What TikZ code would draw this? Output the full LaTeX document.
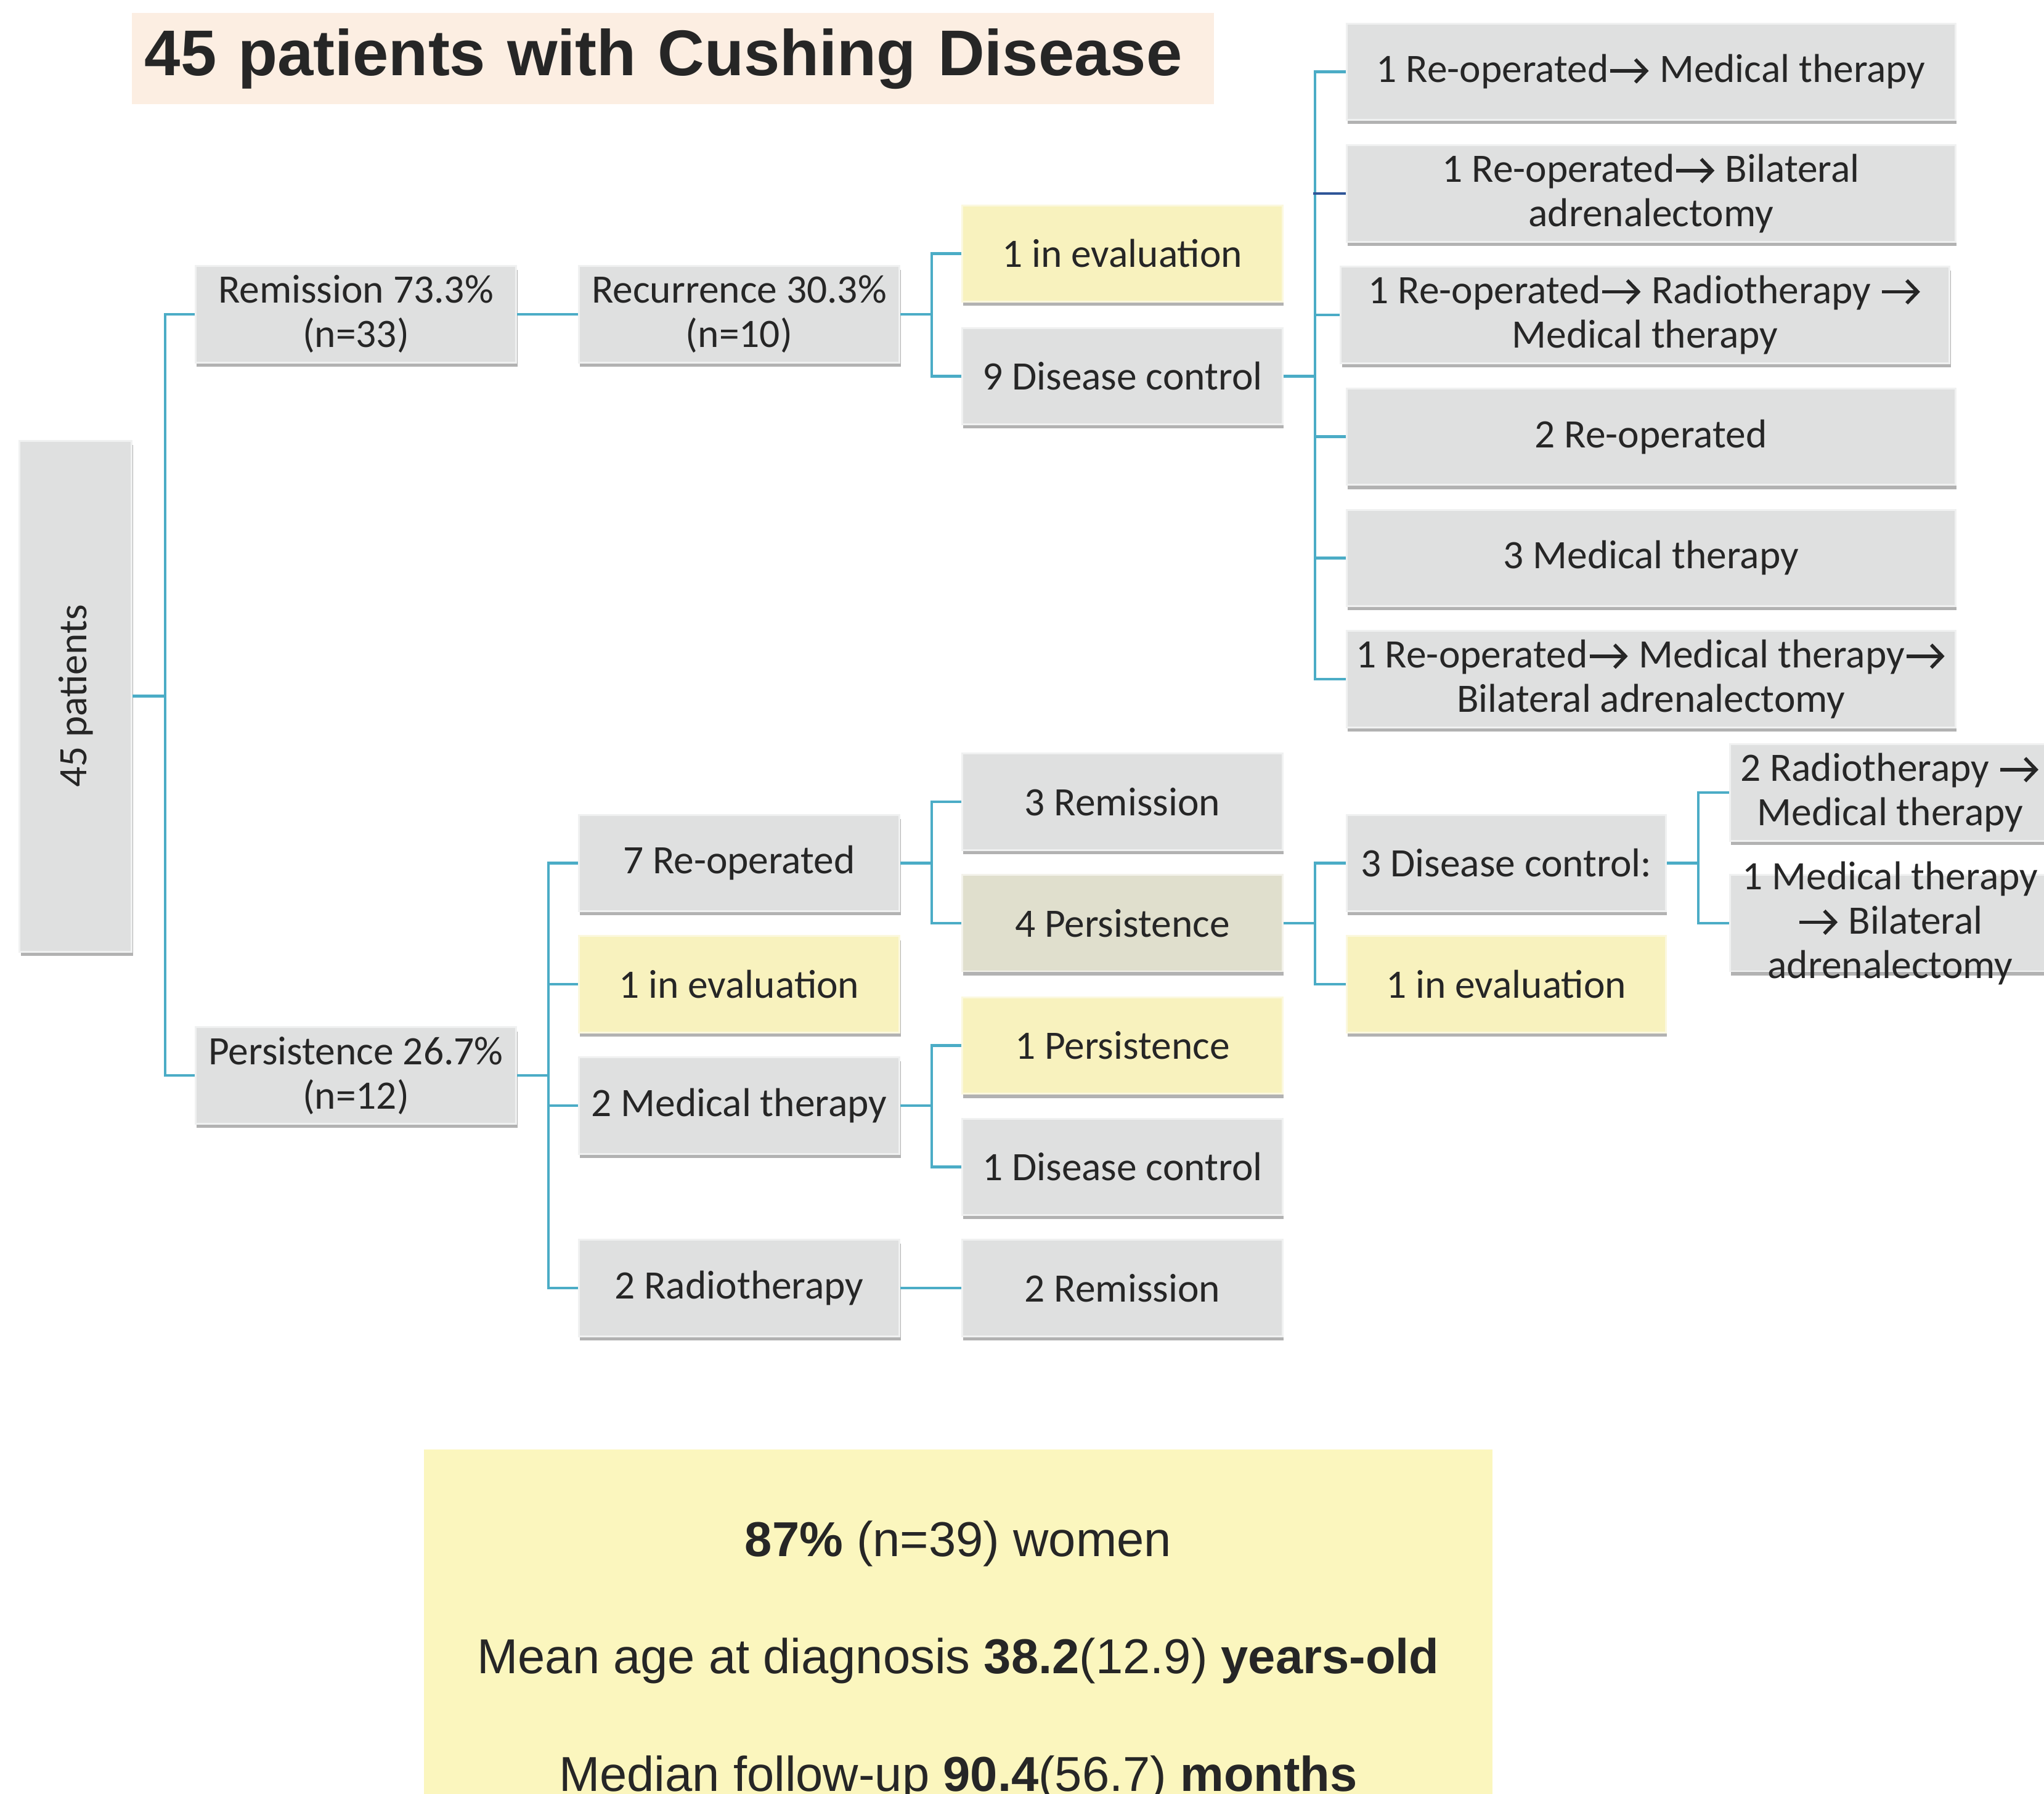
\documentclass[tikz,border=0pt]{standalone}
\usepackage{fontspec}
\usepackage{tikz}
\usetikzlibrary{shadows,arrows.meta}
\setmainfont{Carlito}
\newfontfamily\arialfont{Liberation Sans}

\definecolor{boxgray}{RGB}{223,224,224}
\definecolor{boxrim}{RGB}{240,241,241}
\definecolor{evalyellow}{RGB}{248,242,190}
\definecolor{persbeige}{RGB}{224,223,205}
\definecolor{titlepeach}{RGB}{252,238,226}
\definecolor{notesyellow}{RGB}{251,246,190}
\definecolor{linkblue}{RGB}{75,172,198}
\definecolor{linknavy}{RGB}{47,85,151}
\definecolor{inkgray}{RGB}{38,38,38}

\newcommand{\ra}{\tikz[baseline=-0.6ex]\draw[inkgray, line width=0.75pt, -{Straight Barb[length=2.4pt,width=5pt]}] (0,0) -- (0.95em,0);}

\tikzset{
  box/.style={draw=boxrim, line width=0.4pt, fill=boxgray, text=inkgray,
    font=\fontsize{8.8}{9.7}\selectfont, align=center, inner xsep=0pt, inner ysep=1pt,
    minimum width=2.46cm, minimum height=0.74cm,
    drop shadow={shadow xshift=0.25pt, shadow yshift=-0.9pt, fill=black!60, opacity=0.5}},
  widebox/.style={box, minimum width=4.67cm},
  evalbox/.style={box, fill=evalyellow, draw=evalyellow!50!white},
  link/.style={draw=linkblue, line width=0.6pt},
}

\begin{document}
\begin{tikzpicture}
\useasboundingbox (0,0) rectangle (15.68,13.76);

% title
\node[fill=titlepeach, minimum height=0.70cm, text width=8.10cm, inner xsep=0.1cm, align=left, text=inkgray,
  font=\arialfont\bfseries\fontsize{14.1}{16}\selectfont] (title) at (5.16,13.31) {45 patients with Cushing Disease};

% first levels
\node[box, minimum width=0.86cm, minimum height=3.92cm] (all) at (0.58,8.42) {\rotatebox{90}{45 patients}};
\node[box] (rem) at (2.73,11.35) {Remission 73.3\%\\(n=33)};
\node[box] (pers) at (2.73,5.51) {Persistence 26.7\%\\(n=12)};

\node[box] (rec) at (5.67,11.35) {Recurrence 30.3\%\\(n=10)};
\node[box] (reop) at (5.67,7.14) {7 Re-operated};
\node[evalbox] (evalA) at (5.67,6.21) {1 in evaluation};
\node[box] (med) at (5.67,5.28) {2 Medical therapy};
\node[box] (radio) at (5.67,3.88) {2 Radiotherapy};

% third column
\node[evalbox] (evalB) at (8.61,11.815) {1 in evaluation};
\node[box] (dc) at (8.61,10.875) {9 Disease control};
\node[box] (remA) at (8.61,7.61) {3 Remission};
\node[box, fill=persbeige, draw=persbeige!40!white] (persA) at (8.61,6.68) {4 Persistence};
\node[evalbox] (persB) at (8.61,5.74) {1 Persistence};
\node[box] (dcB) at (8.61,4.81) {1 Disease control};
\node[box] (remB) at (8.61,3.88) {2 Remission};

% treatments after recurrence
\node[widebox] (t1) at (12.665,13.21) {1 Re-operated\ra{} Medical therapy};
\node[widebox] (t2) at (12.665,12.275) {1 Re-operated\ra{} Bilateral\\adrenalectomy};
\node[widebox] (t3) at (12.62,11.345) {1 Re-operated\ra{} Radiotherapy \ra\\Medical therapy};
\node[widebox] (t4) at (12.665,10.41) {2 Re-operated};
\node[widebox] (t5) at (12.665,9.48) {3 Medical therapy};
\node[widebox] (t6) at (12.665,8.55) {1 Re-operated\ra{} Medical therapy\ra\\Bilateral adrenalectomy};

% after persistence
\node[box, minimum width=2.45cm] (dcC) at (11.555,7.14) {3 Disease control:};
\node[evalbox, minimum width=2.45cm] (evalC) at (11.555,6.21) {1 in evaluation};
\node[box] (u1) at (14.50,7.68) {2 Radiotherapy \ra\\Medical therapy};
\node[box] (u2) at (14.50,6.68) {};
\node[text=inkgray, font=\fontsize{8.8}{9.7}\selectfont, align=center, inner sep=0pt] (u2text) at (u2.center) {1 Medical therapy\\\ra{} Bilateral\\adrenalectomy};

% connectors
\draw[link] (all.east) -- ++(0.25,0) |- (rem.west);
\draw[link] (all.east) -- ++(0.25,0) |- (pers.west);
\draw[link] (rem.east) -- (rec.west);
\draw[link] (rec.east) -- ++(0.24,0) |- (evalB.west);
\draw[link] (rec.east) -- ++(0.24,0) |- (dc.west);
\foreach \kid in {t1,t3,t4,t5,t6}
  \draw[link] (dc.east) -- ++(0.24,0) |- (\kid.west);
\draw[link, draw=linknavy] (t2.west) -- ++(-0.25,0);

\foreach \kid in {reop,evalA,med,radio}
  \draw[link] (pers.east) -- ++(0.24,0) |- (\kid.west);
\draw[link] (reop.east) -- ++(0.24,0) |- (remA.west);
\draw[link] (reop.east) -- ++(0.24,0) |- (persA.west);
\draw[link] (persA.east) -- ++(0.24,0) |- (dcC.west);
\draw[link] (persA.east) -- ++(0.24,0) |- (evalC.west);
\draw[link] (dcC.east) -- ++(0.24,0) |- (u1.west);
\draw[link] (dcC.east) -- ++(0.24,0) |- (u2.west);
\draw[link] (med.east) -- ++(0.24,0) |- (persB.west);
\draw[link] (med.east) -- ++(0.24,0) |- (dcB.west);
\draw[link] (radio.east) -- (remB.west);

% summary
\node[fill=notesyellow, minimum width=8.20cm, minimum height=3.24cm, text=inkgray, align=center,
  font=\arialfont\fontsize{10.7}{25.6}\selectfont] (notes) at (7.35,1.02)
  {\textbf{87\%} (n=39) women\\Mean age at diagnosis \textbf{38.2}(12.9) \textbf{years-old}\\Median follow-up \textbf{90.4}(56.7) \textbf{months}};

\end{tikzpicture}
\end{document}
